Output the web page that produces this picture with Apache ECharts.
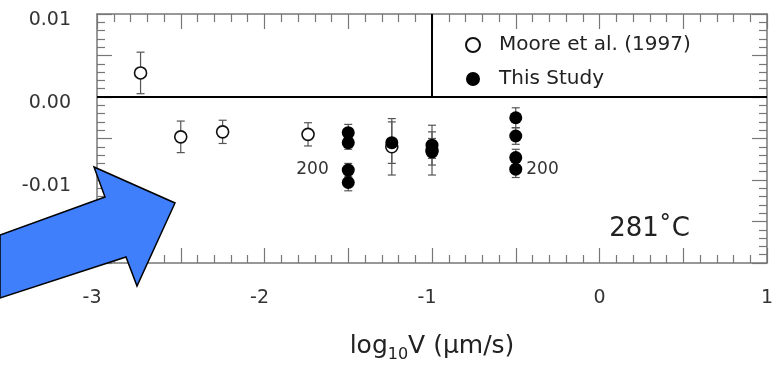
<!DOCTYPE html>
<html>
<head>
<meta charset="utf-8">
<script src="https://cdn.jsdelivr.net/npm/echarts@6/dist/echarts.min.js"></script>
<style>
  html, body { margin: 0; padding: 0; background: #fff; }
  #chart { width: 781px; height: 368px; }
</style>
</head>
<body>
<div id="chart"></div>
<script>
// Moore et al. (1997): log10 V, value, error half-width
const mooreX = [-2.74, -2.5, -2.25, -1.74, -1.24, -1.0]
const mooreY = [0.0029, -0.0048, -0.0042, -0.0045, -0.006, -0.0064]
const mooreErr = [0.0025, 0.0019, 0.0014, 0.0014, 0.0034, 0.003]

// This study
const studyX = [-1.5, -1.5, -1.5, -1.5, -1.24, -1.0, -1.0, -0.5, -0.5, -0.5, -0.5]
const studyY = [-0.0043, -0.0055, -0.0088, -0.0103, -0.0055, -0.0058, -0.0066, -0.0025, -0.0047, -0.0073, -0.0087]
const studyErr = [0.001, 0.0008, 0.0008, 0.001, 0.0025, 0.0016, 0.0016, 0.0012, 0.001, 0.001, 0.001]
const studyNotes = ['', '', '200', '', '', '', '', '', '', '', '200']

const xTicks = [-3, -2, -1, 0, 1]
const yTicks = [-0.02, -0.01, 0.0, 0.01]
const zeroLineY = 0
const legendDividerX = -1
const tempLabel = '281˚C'

const FONT = '"DejaVu Sans", "Open Sans", sans-serif'
const frameColor = '#777'

function errorBars(xs, ys, errs) {
  return xs.map((x, i) => [x, ys[i] - errs[i], ys[i] + errs[i]])
}

function renderErrorBar(params, api) {
  const x = api.value(0)
  const top = api.coord([x, api.value(2)])
  const bot = api.coord([x, api.value(1)])
  const hw = 4
  const style = { stroke: '#555', lineWidth: 1.2 }
  return {
    type: 'group',
    children: [
      { type: 'line', shape: { x1: top[0], y1: top[1], x2: bot[0], y2: bot[1] }, style },
      { type: 'line', shape: { x1: top[0] - hw, y1: top[1], x2: top[0] + hw, y2: top[1] }, style },
      { type: 'line', shape: { x1: bot[0] - hw, y1: bot[1], x2: bot[0] + hw, y2: bot[1] }, style },
    ],
  }
}

const isTick = (v, ticks) => ticks.some((t) => Math.abs(t - v) < 1e-9)

const tickStyle = { color: frameColor, width: 1.2 }

const xAxisBase = {
  type: 'value',
  min: -3,
  max: 1,
  interval: 0.5,
  splitLine: { show: false },
  axisLine: { show: true, onZero: false, lineStyle: { color: frameColor, width: 1.5 } },
  axisTick: { show: true, inside: true, length: 15, lineStyle: tickStyle },
  minorTick: { show: true, splitNumber: 5, length: 8, lineStyle: tickStyle },
}

const yAxisBase = {
  type: 'value',
  min: -0.02,
  max: 0.01,
  interval: 0.005,
  splitLine: { show: false },
  axisLine: { show: true, onZero: false, lineStyle: { color: frameColor, width: 1.5 } },
  axisTick: { show: true, inside: true, length: 15, lineStyle: tickStyle },
  minorTick: { show: true, splitNumber: 5, length: 8, lineStyle: tickStyle },
}

const chart = echarts.init(document.getElementById('chart'), null, { renderer: 'canvas' })

chart.setOption({
  animation: false,
  backgroundColor: '#fff',
  textStyle: { fontFamily: FONT },
  grid: { left: 97, right: 14, top: 14, bottom: 105, containLabel: false, outerBoundsMode: 'none' },
  legend: {
    data: ['Moore et al. (1997)', 'This Study'],
    orient: 'vertical',
    left: 460,
    top: 29,
    itemWidth: 42,
    itemHeight: 14,
    itemGap: 12,
    textStyle: { fontSize: 20, color: '#222', fontFamily: FONT, lineHeight: 22 },
  },
  xAxis: [
    {
      ...xAxisBase,
      position: 'bottom',
      axisLabel: {
        fontSize: 19,
        color: '#333',
        margin: 26,
        formatter: (v) => (isTick(v, xTicks) ? (v < 0 ? '{n|' + v + '}' : String(v)) : ''),
        rich: { n: { fontSize: 19, color: '#333', fontFamily: FONT, padding: [0, 10, 0, 0] } },
      },
      name: '{a|log}{s|10}{a|V (µm/s)}',
      nameLocation: 'middle',
      nameGap: 68,
      nameTextStyle: {
        rich: {
          a: { fontSize: 25, color: '#222', fontFamily: FONT, lineHeight: 30 },
          s: { fontSize: 16, color: '#222', fontFamily: FONT, lineHeight: 30, padding: [18, 0, 0, 0] },
        },
      },
    },
    { ...xAxisBase, position: 'top', axisLabel: { show: false } },
  ],
  yAxis: [
    {
      ...yAxisBase,
      position: 'left',
      axisLabel: {
        fontSize: 19,
        color: '#333',
        margin: 26,
        verticalAlign: 'top',
        lineHeight: 12,
        formatter: (v) => (isTick(v, yTicks) ? (Math.abs(v) < 1e-9 ? '0.00' : v.toFixed(2)) : ''),
      },
    },
    { ...yAxisBase, position: 'right', axisLabel: { show: false } },
  ],
  series: [
    {
      type: 'custom',
      name: 'mooreErr',
      renderItem: renderErrorBar,
      data: errorBars(mooreX, mooreY, mooreErr),
      z: 1,
      silent: true,
    },
    {
      type: 'custom',
      name: 'studyErr',
      renderItem: renderErrorBar,
      data: errorBars(studyX, studyY, studyErr),
      z: 1,
      silent: true,
    },
    {
      type: 'scatter',
      name: 'Moore et al. (1997)',
      symbol: 'circle',
      symbolSize: 12,
      itemStyle: { color: '#fff', borderColor: '#111', borderWidth: 1.6, opacity: 1 },
      data: mooreX.map((x, i) => [x, mooreY[i]]),
      z: 2,
      markLine: {
        silent: true,
        symbol: 'none',
        label: { show: false },
        lineStyle: { color: '#000', width: 2, type: 'solid' },
        data: [
          { yAxis: zeroLineY },
          [{ coord: [legendDividerX, zeroLineY] }, { coord: [legendDividerX, 0.01] }],
        ],
      },
    },
    {
      type: 'scatter',
      name: 'This Study',
      symbol: 'circle',
      symbolSize: 13,
      itemStyle: { color: '#000', opacity: 1 },
      data: studyX.map((x, i) => ({
        value: [x, studyY[i]],
        label: studyNotes[i]
          ? {
              show: true,
              formatter: studyNotes[i],
              position: x < -1 ? 'left' : 'right',
              distance: x < -1 ? 13 : 4,
              fontSize: 17,
              color: '#333',
              fontFamily: FONT,
            }
          : { show: false },
      })),
      z: 3,
    },
  ],
  graphic: [
    {
      type: 'text',
      right: 781 - 690,
      top: 216,
      z: 10,
      style: { text: tempLabel, fontSize: 26, fill: '#222', fontFamily: FONT },
    },
    {
      type: 'polygon',
      z: 100,
      shape: {
        points: [[0, 235], [105, 197], [94, 167], [175, 203], [137, 286], [126, 257], [0, 298]],
      },
      style: { fill: '#3f7ffb', stroke: '#000', lineWidth: 1.5 },
    },
  ],
})
</script>
</body>
</html>
